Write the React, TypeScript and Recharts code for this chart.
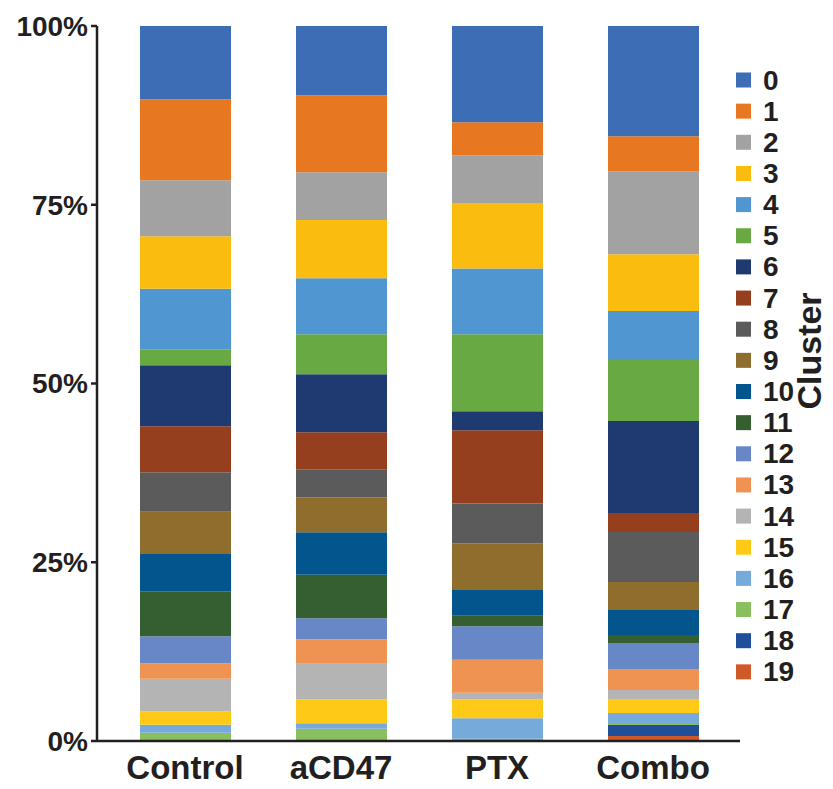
import React from 'react';
import { BarChart, Bar, XAxis, YAxis, Legend } from 'recharts';

const groups = ['Control', 'aCD47', 'PTX', 'Combo'];
const clusters = ['0', '1', '2', '3', '4', '5', '6', '7', '8', '9', '10', '11', '12', '13', '14', '15', '16', '17', '18', '19'];
const colors = [
  '#3D6DB4', '#E87722', '#A2A2A2', '#FBBC10', '#5096D1',
  '#69A944', '#1F3A70', '#953F1F', '#5B5B5B', '#8F6E2D',
  '#03568D', '#365F31', '#6787C6', '#EF9352', '#B4B4B4',
  '#FFCA17', '#76AADB', '#8ABF5F', '#1F4E9A', '#D0592A',
];

// percentage of cells per cluster (0..19)
const control = [10.25, 11.33, 7.83, 7.33, 8.48, 2.23, 8.54, 6.43, 5.51, 5.82, 5.31, 6.3, 3.77, 2.16, 4.56, 1.87, 1.12, 1.16, 0, 0];
const acd47 = [9.69, 10.77, 6.67, 8.16, 7.83, 5.59, 8.12, 5.17, 3.92, 4.89, 5.93, 6.1, 2.94, 3.41, 4.98, 3.35, 0.76, 1.72, 0, 0];
const ptx = [13.47, 4.61, 6.68, 9.16, 9.2, 10.77, 2.66, 10.23, 5.57, 6.43, 3.7, 1.48, 4.67, 4.61, 0.93, 2.66, 2.85, 0.32, 0, 0];
const combo = [15.43, 4.89, 11.61, 7.93, 6.71, 8.67, 12.87, 2.66, 6.99, 3.92, 3.49, 1.12, 3.64, 2.94, 1.26, 1.95, 1.54, 0.14, 1.54, 0.7];

const series = [control, acd47, ptx, combo];
const yTicks = [0, 0.25, 0.5, 0.75, 1];

const data = groups.map((g, gi) => {
  const row: Record<string, any> = { group: g };
  clusters.forEach((c, ci) => {
    row['c' + c] = series[gi][ci];
  });
  return row;
});

const FONT = '"Liberation Sans", Arial, Helvetica, sans-serif';
const INK = '#231F20';

const LegendContent = () => (
  <svg width={113} height={660} style={{ display: 'block' }}>
    {clusters.map((c, i) => {
      const cy = 25 + i * 31.15;
      return (
        <g key={c}>
          <rect x={16} y={cy - 7.5} width={15} height={15} fill={colors[i]} />
          <text
            x={43}
            y={cy}
            dominantBaseline="central"
            fontFamily={FONT}
            fontWeight={700}
            fontSize={28}
            fill={INK}
          >
            {c}
          </text>
        </g>
      );
    })}
    <text
      transform="translate(89, 296) rotate(-90)"
      textAnchor="middle"
      dominantBaseline="central"
      fontFamily={FONT}
      fontWeight={700}
      fontSize={34}
      fill={INK}
    >
      Cluster
    </text>
  </svg>
);

export default function App() {
  return (
    <div style={{ position: 'absolute', left: 0, top: 0, width: 833, height: 789, background: '#fff' }}>
      <BarChart
        width={833}
        height={789}
        data={data}
        stackOffset="expand"
        margin={{ top: 26, right: 93, bottom: 0, left: 0 }}
        barCategoryGap={0}
      >
        <XAxis
          dataKey="group"
          height={48}
          tickLine={false}
          axisLine={{ stroke: INK, strokeWidth: 2.5 }}
          padding={{ left: 10, right: 9 }}
          tick={{ fill: INK, fontSize: 33, fontWeight: 700, fontFamily: FONT }}
          tickMargin={9}
        />
        <YAxis
          width={97}
          domain={[0, 1]}
          ticks={yTicks}
          tickFormatter={(v: number) => `${Math.round(v * 100)}%`}
          axisLine={{ stroke: INK, strokeWidth: 2.5 }}
          tickLine={{ stroke: INK, strokeWidth: 2.5 }}
          tickSize={6}
          tickMargin={3}
          tick={{ fill: INK, fontSize: 28, fontWeight: 700, fontFamily: FONT }}
          allowDataOverflow
        />
        {clusters
          .map((c, i) => ({ c, i }))
          .reverse()
          .map(({ c, i }) => (
            <Bar
              key={c}
              dataKey={'c' + c}
              name={c}
              stackId="a"
              fill={colors[i]}
              barSize={91}
              isAnimationActive={false}
            />
          ))}
        <Legend
          layout="horizontal"
          verticalAlign="middle"
          align="center"
          content={LegendContent}
          wrapperStyle={{ position: 'absolute', left: 720, top: 55, width: 113, height: 660 }}
        />
      </BarChart>
    </div>
  );
}
